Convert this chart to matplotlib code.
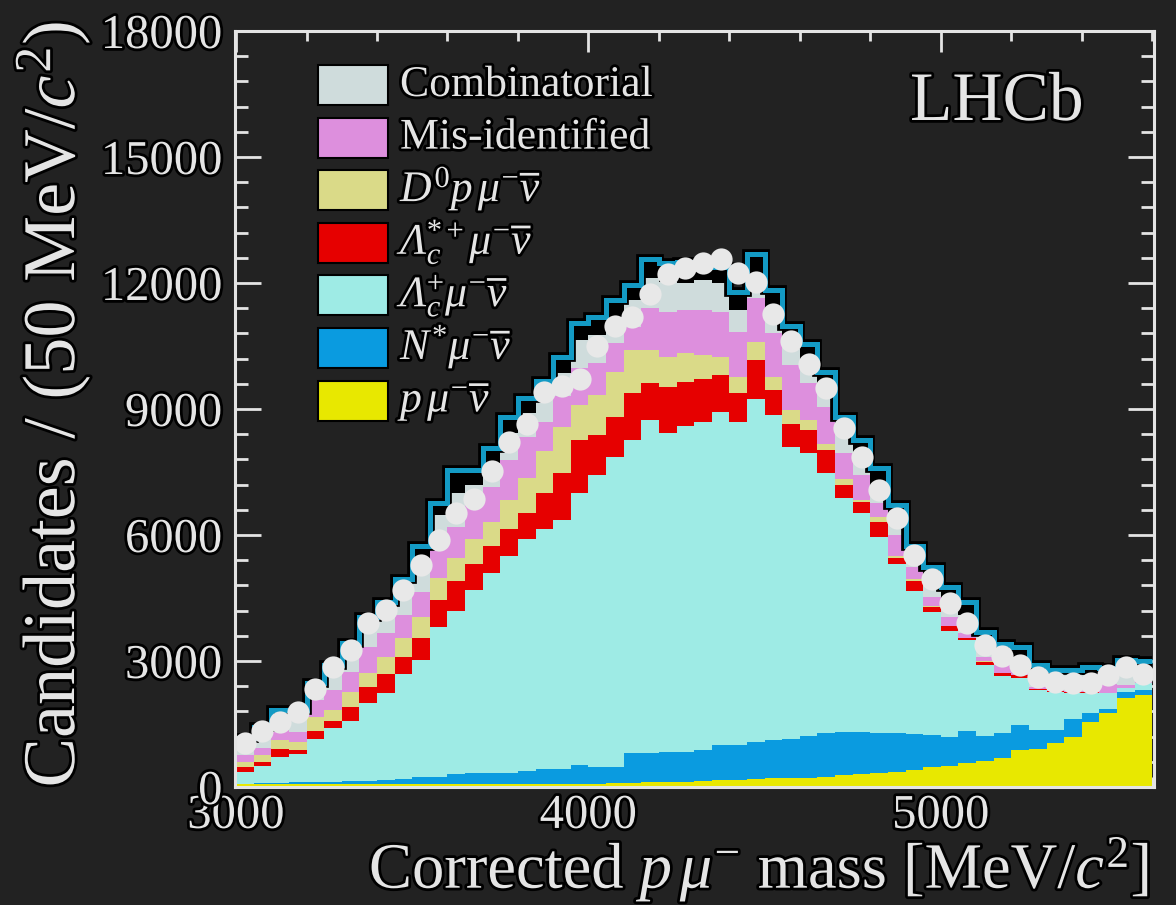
import numpy as np
import matplotlib
matplotlib.use("Agg")
import matplotlib.pyplot as plt
from matplotlib import patheffects as pe
from matplotlib.patches import Rectangle
from matplotlib.ticker import MultipleLocator

# ---- binning (50 MeV/c^2 bins of the corrected p mu mass) ----
edges = np.arange(3000, 5601, 50)

# ---- fitted template yields per bin (stacked bottom -> top) ----
p_munu = [60, 60, 60, 60, 60, 60, 60, 60, 60, 60, 60,
          80, 80, 80, 80, 80, 80, 80, 80, 80, 80,
          90, 100, 110, 120, 130, 140, 160, 175, 190, 205, 215, 225, 246, 286, 310,
          341, 365, 405, 468, 500, 579, 627, 683, 881, 905, 1040, 1200, 1556, 1754, 2111, 2190]
nstar_munu = [20, 30, 40, 50, 60, 70, 80, 90, 100, 140, 180, 170, 240, 245, 245, 250,
              310, 350, 350, 450, 400, 380, 717, 707, 721, 711, 741, 840, 825, 890, 915,
              935, 989, 1047, 1031, 1007, 952, 928, 857, 770, 698, 754, 595, 595, 595,
              452, 317, 419, 198, 103, 159, 120]
lc_munu = [284, 417, 621, 676, 1015, 1267, 1439, 1843, 2085, 2490, 2784, 3550, 3880,
           4375, 4775, 5170, 5510, 5720, 5927, 6470, 6950, 7390, 7443, 7921, 7580, 7759,
           7819, 7937, 7698, 8158, 7737, 6953, 6731, 6175, 5556, 5199, 4657, 4017, 3412,
           2937, 2524, 2167, 1683, 1365, 1124, 953, 913, 627, 492, 373, 80, 160]
lcstar_munu = [119, 81, 184, 95, 198, 182, 319, 381, 445, 398, 516, 650, 700, 600, 650,
               650, 616, 842, 1111, 1262, 951, 957, 1113, 873, 1111, 1051, 1010, 873, 675,
               929, 603, 544, 547, 548, 317, 278, 350, 135, 231, 118, 111, 40, 78, 63, 60,
               20, 20, 14, 9, 10, 10, 10]
d0p_munu = [112, 174, 214, 198, 341, 254, 372, 333, 412, 452, 515, 526, 550, 600, 550,
            683, 850, 1000, 1100, 833, 949, 1073, 1032, 794, 714, 674, 564, 428, 397, 436,
            310, 337, 246, 159, 135, 39, 136, 55, 40, 7, 7, 5, 7, 4, 5, 5, 5, 5, 5, 5, 5, 5]
misid = [167, 159, 238, 238, 397, 477, 476, 633, 557, 555, 595, 714, 750, 854, 850, 953,
         975, 706, 732, 873, 757, 674, 555, 992, 1071, 1032, 1083, 1079, 1071, 1032, 1032,
         1064, 873, 865, 620, 596, 318, 500, 301, 231, 215, 114, 112, 195, 81, 38, 15, 25,
         20, 205, 65, 15]
combinatorial = [325, 417, 396, 436, 318, 505, 590, 605, 653, 605, 700, 786, 800, 436,
                 572, 635, 556, 675, 549, 675, 675, 634, 635, 714, 715, 635, 714, 675, 516,
                 357, 448, 436, 437, 373, 476, 317, 317, 436, 254, 414, 357, 436, 517, 357,
                 356, 507, 450, 450, 387, 217, 435, 250]
other = [80, 90, 80, 80, 80, 90, 100, 110, 100, 250, 400, 278, 548, 358, 342, 379, 357,
         297, 381, 397, 421, 397, 365, 453, 436, 508, 329, 378, 433, 698, 580, 496, 496,
         457, 379, 516, 517, 278, 250, 301, 358, 317, 79, 138, 239, 25, 26, 46, 198, 158,
         159, 240]

# ---- observed candidates per bin ----
data = [1048, 1333, 1548, 1793, 2333, 2864, 3262, 3912, 4214, 4690, 5286, 5881, 6524,
        6850, 7531, 8221, 8636, 9398, 9555, 9707, 10500, 10976, 11198, 11738, 12207,
        12364, 12483, 12583, 12231, 12012, 11262, 10619, 10083, 9500, 8540, 7850, 7071,
        6398, 5524, 4945, 4388, 3898, 3381, 3119, 2905, 2626, 2507, 2469, 2469, 2667,
        2864, 2690]

# \mathsf is mapped to the italic serif face so that the capital Lambda is slanted
legend_labels = [
    "Combinatorial",
    "Mis-identified",
    r"$D^{0}p\,\mu^{-}\overline{\nu}$",
    r"$\mathsf{\Lambda}_{c}^{*+}\mu^{-}\overline{\nu}$",
    r"$\mathsf{\Lambda}_{c}^{+}\mu^{-}\overline{\nu}$",
    r"$N^{*}\mu^{-}\overline{\nu}$",
    r"$p\,\mu^{-}\overline{\nu}$",
]

# ---- styling ----
BG = "#222222"
FG = "#e4e4e4"
plt.rcParams["font.family"] = ["Liberation Serif", "DejaVu Serif"]
plt.rcParams["mathtext.fontset"] = "custom"
plt.rcParams["mathtext.rm"] = "Liberation Serif"
plt.rcParams["mathtext.it"] = "Liberation Serif:italic"
plt.rcParams["mathtext.bf"] = "Liberation Serif:bold"
plt.rcParams["mathtext.sf"] = "Liberation Serif:italic"

colors = {
    "p": "#e8e800",
    "nstar": "#0a9be0",
    "lc": "#9eebe5",
    "lcstar": "#e60000",
    "d0": "#dada88",
    "mis": "#dd8fdd",
    "comb": "#cfdcdc",
    "other": "#000000",
}
fit_color = "#139ac4"
glow = [pe.withStroke(linewidth=4, foreground="black")]

W, H = 1176, 905
fig = plt.figure(figsize=(W / 100, H / 100), dpi=100, facecolor=BG)
ax = fig.add_axes([235 / W, 1 - 787 / H, 919 / W, 756 / H], facecolor=BG)

layers = [
    (p_munu, colors["p"]),
    (nstar_munu, colors["nstar"]),
    (lc_munu, colors["lc"]),
    (lcstar_munu, colors["lcstar"]),
    (d0p_munu, colors["d0"]),
    (misid, colors["mis"]),
    (combinatorial, colors["comb"]),
    (other, colors["other"]),
]
base = np.zeros(len(edges) - 1)
for vals, col in layers:
    top = base + np.asarray(vals, float)
    ax.stairs(top, edges, baseline=base.copy(), fill=True, color=col, lw=0, zorder=2)
    base = top
total = base

ax.stairs(total, edges, baseline=None, color=fit_color, lw=3.6, zorder=3,
          path_effects=[pe.Stroke(linewidth=7, foreground="black"), pe.Normal()])

centers = 0.5 * (edges[:-1] + edges[1:])
ax.plot(centers, data, "o", ms=16, color="#e8e8e8", mec="none", zorder=4)

ax.set_xlim(2997, 5605)
ax.set_ylim(0, 18000)
ax.xaxis.set_major_locator(MultipleLocator(1000))
ax.xaxis.set_minor_locator(MultipleLocator(200))
ax.yaxis.set_major_locator(MultipleLocator(3000))
ax.yaxis.set_minor_locator(MultipleLocator(600))

for s in ax.spines.values():
    s.set_color(FG)
    s.set_linewidth(2.2)
    s.set_zorder(6)

ax.tick_params(which="both", direction="in", top=True, right=True, color=FG,
               width=2.0, labelcolor=FG, labelsize=35)
ax.tick_params(axis="y", which="major", length=19, pad=9)
ax.tick_params(axis="y", which="minor", length=9.5)
ax.tick_params(axis="x", which="major", length=15, pad=5)
ax.tick_params(axis="x", which="minor", length=7.5)
for lab in ax.get_xticklabels() + ax.get_yticklabels():
    lab.set_path_effects(glow)
for line in ax.xaxis.get_ticklines(minor=True) + ax.xaxis.get_ticklines() + \
        ax.yaxis.get_ticklines(minor=True) + ax.yaxis.get_ticklines():
    line.set_zorder(7)


def fx(px):
    return px / W


def fy(py):
    return 1 - py / H


fig.text(fx(1150), fy(888), r"Corrected $p\,\mu^{-}$ mass [MeV/$c^{2}$]", color=FG,
         fontsize=46.5, ha="right", va="baseline", path_effects=glow)
fig.text(fx(53), fy(22), r"Candidates / (50 MeV/$c^{2}$)", color=FG, fontsize=53.5,
         rotation=90, ha="center", va="top", path_effects=glow)
fig.text(fx(910), fy(120), "LHCb", color=FG, fontsize=50, ha="left", va="baseline",
         path_effects=glow)

# legend drawn row by row
legend_colors = [colors["comb"], colors["mis"], colors["d0"], colors["lcstar"],
                 colors["lc"], colors["nstar"], colors["p"]]
row0, step = 85, 52.6
for k, (lab, col) in enumerate(zip(legend_labels, legend_colors)):
    yc = row0 + k * step
    fig.patches.append(Rectangle((fx(318), fy(yc + 20)), 70 / W, 40 / H,
                                 transform=fig.transFigure, facecolor=col,
                                 edgecolor="black", lw=1.5, zorder=8))
    fig.text(fx(400), fy(yc + 11), lab, color=FG, fontsize=31.5, ha="left",
             va="baseline", path_effects=glow, zorder=9)

fig.savefig("out.png", dpi=100, facecolor=BG)
